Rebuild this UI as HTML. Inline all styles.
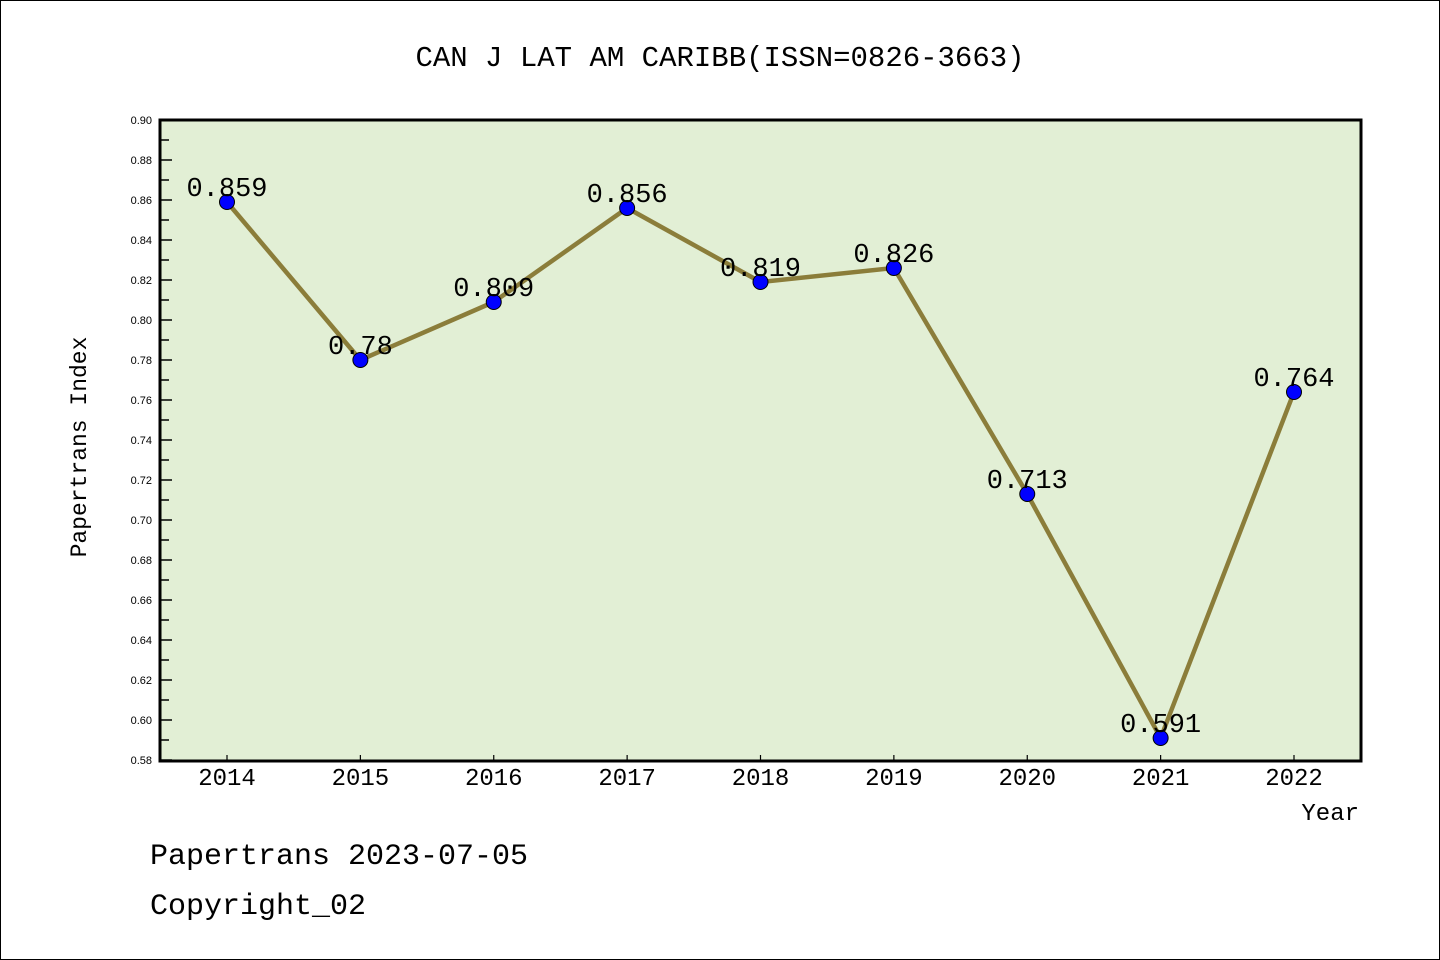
<!DOCTYPE html>
<html><head><meta charset="utf-8"><style>
html,body{margin:0;padding:0;background:#fff}
svg{display:block}
text{font-family:"Liberation Mono","WenQuanYi Zen Hei",monospace}
</style></head><body>
<svg id="chart" width="1440" height="960" xmlns="http://www.w3.org/2000/svg">
<rect x="0.5" y="0.5" width="1439" height="959" fill="#fff" stroke="#000" stroke-width="1"/>
<text x="720" y="66" font-size="29" text-anchor="middle">CAN J LAT AM CARIBB(ISSN=0826-3663)</text>
<rect x="160" y="120" width="1201" height="641" fill="#e2efd5"/>
<g id="yaxis"></g>
<g id="xaxis"></g>
<g id="series"></g>
<rect x="160" y="120" width="1201" height="641" fill="none" stroke="#000" stroke-width="3"/>
<text x="86" y="447" font-size="23" text-anchor="middle" transform="rotate(-90 86 447)">Papertrans Index</text>
<text x="1359" y="820" font-size="24" text-anchor="end">Year</text>
<text x="150" y="864" font-size="30">Papertrans 2023-07-05</text>
<text x="150" y="914" font-size="30">Copyright_02</text>
</svg>
<script>
const years = [2014,2015,2016,2017,2018,2019,2020,2021,2022];
const values = [0.859,0.78,0.809,0.856,0.819,0.826,0.713,0.591,0.764];
const valueLabels = ["0.859","0.78","0.809","0.856","0.819","0.826","0.713","0.591","0.764"];
const yTicks = [0.58,0.60,0.62,0.64,0.66,0.68,0.70,0.72,0.74,0.76,0.78,0.80,0.82,0.84,0.86,0.88,0.90];

const NS="http://www.w3.org/2000/svg";
const yMin=0.58,yMax=0.90,yTop=120,yBot=760;
const xs=v=>227+(v-years[0])*(1294-227)/(years[years.length-1]-years[0]);
const ys=v=>yBot-(v-yMin)/(yMax-yMin)*(yBot-yTop);
function mk(tag,attrs,parent){const e=document.createElementNS(NS,tag);for(const k in attrs)e.setAttribute(k,attrs[k]);parent.appendChild(e);return e;}
const ya=document.getElementById('yaxis'),xa=document.getElementById('xaxis'),sg=document.getElementById('series');
yTicks.forEach((t,i)=>{
  const y=ys(t);
  const l=mk('line',{x1:160,x2:172,y1:y,y2:y,stroke:'#000','stroke-width':1.5},ya);
  
  
  const tx=mk('text',{x:152,y:y+4,'text-anchor':'end',style:'font-family:"Liberation Sans",sans-serif;font-size:11px'},ya);
  tx.textContent=t.toFixed(2);
  
  
  if(i<yTicks.length-1){
    const ym=ys(t+0.01);
    const m=mk('line',{x1:160,x2:169,y1:ym,y2:ym,stroke:'#000','stroke-width':1.5},ya);
    
    
  }
});
years.forEach(yr=>{
  const x=xs(yr);
  const l=mk('line',{x1:x,x2:x,y1:761,y2:755,stroke:'#000','stroke-width':1.2},xa);
  
  
  const tx=mk('text',{x:x,y:785,'font-size':24,'text-anchor':'middle'},xa);
  tx.textContent=yr;
  
  
});
const pl=mk('polyline',{points:years.map((y,i)=>xs(y)+','+ys(values[i])).join(' '),fill:'none',stroke:'#8b7d3a','stroke-width':4.5,'stroke-linejoin':'round'},sg);


years.forEach((yr,i)=>{
  const c=mk('circle',{cx:xs(yr),cy:ys(values[i]),r:7.5,fill:'#0000ff',stroke:'#000','stroke-width':1},sg);
  
  
  const tx=mk('text',{x:xs(yr),y:ys(values[i])-6,'font-size':27,'text-anchor':'middle'},sg);
  tx.textContent=valueLabels[i];
  
  
});
</script>
</body></html>
